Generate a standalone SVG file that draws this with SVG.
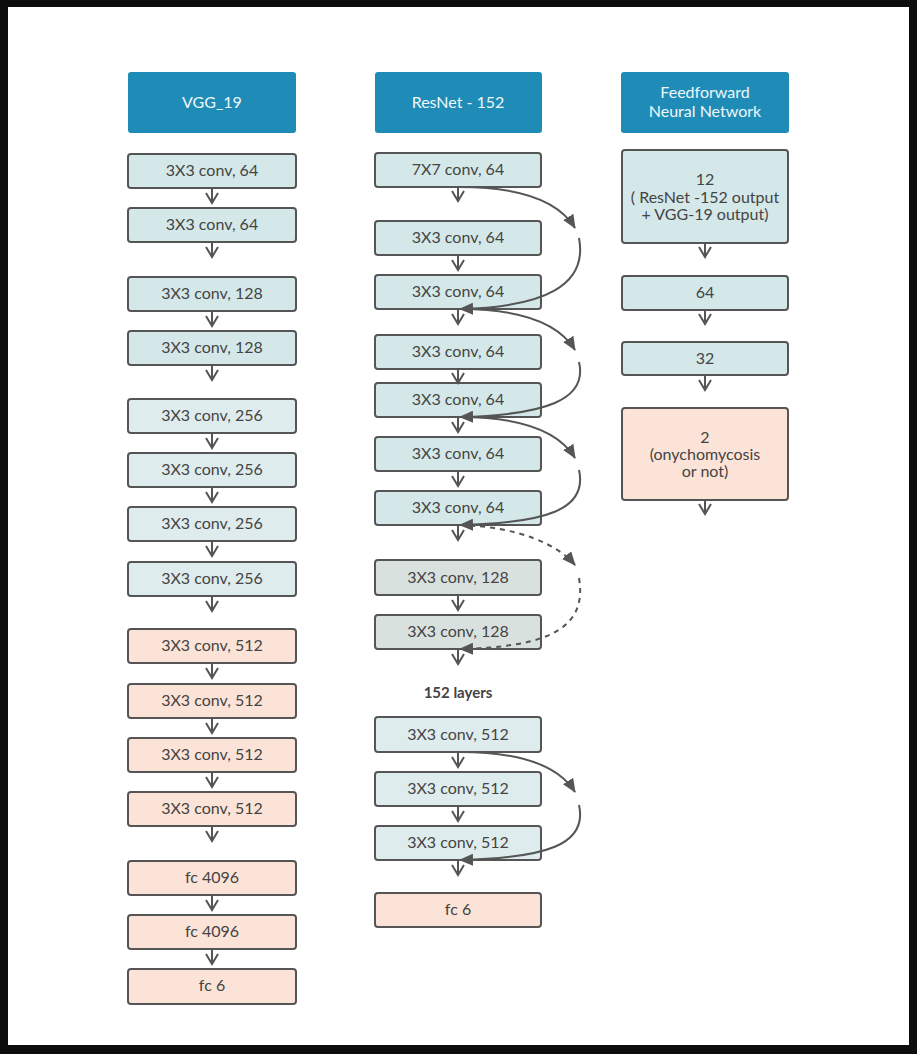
<svg xmlns="http://www.w3.org/2000/svg" width="917" height="1054" viewBox="0 0 917 1054">
<defs>
<marker id="chev" viewBox="0 0 14 14" refX="12" refY="7" markerWidth="14" markerHeight="14" markerUnits="userSpaceOnUse" orient="auto">
<path d="M2,1 L12,7 L2,13" fill="none" stroke="#555" stroke-width="2"/>
</marker>
<marker id="tri" viewBox="0 0 14 12" refX="13" refY="6" markerWidth="14" markerHeight="12" markerUnits="userSpaceOnUse" orient="auto">
<path d="M0,0 L14,6 L0,12 Z" fill="#555"/>
</marker>
<style>
.hdr{fill:#1f8cb7}
.ht{fill:#eef7fa;font-family:Lato,"Liberation Sans",sans-serif;font-size:16px;text-anchor:middle}
.b{stroke:#555;stroke-width:2}
.lb{fill:#d5e8e9}
.lb2{fill:#dfecee}
.gb{fill:#d9e1df}
.pk{fill:#fce3d7}
.t{fill:#444;font-family:Lato,"Liberation Sans",sans-serif;font-size:16px;text-anchor:middle}
.a{fill:none;stroke:#555;stroke-width:2;marker-end:url(#chev)}
.c{fill:none;stroke:#555;stroke-width:2;marker-end:url(#tri)}
.d{stroke-dasharray:5 5}
</style>
</defs>
<rect x="0" y="0" width="917" height="1054" fill="#0d0d0d"/>
<rect x="8" y="7" width="901" height="1038" fill="#ffffff"/>

<!-- VGG column -->
<g id="vgg-header"><rect class="hdr" x="128" y="72" width="168" height="61" rx="3"/><text class="ht" x="212" y="108">VGG_19</text></g>
<g id="vgg1"><rect class="b lb" x="128" y="154" width="168" height="34" rx="3"/><text class="t" x="212" y="176">3X3 conv, 64</text></g>
<g id="vgg2"><rect class="b lb" x="128" y="208" width="168" height="34" rx="3"/><text class="t" x="212" y="230">3X3 conv, 64</text></g>
<g id="vgg3"><rect class="b lb" x="128" y="277" width="168" height="34" rx="3"/><text class="t" x="212" y="299">3X3 conv, 128</text></g>
<g id="vgg4"><rect class="b lb" x="128" y="331" width="168" height="34" rx="3"/><text class="t" x="212" y="353">3X3 conv, 128</text></g>
<g id="vgg5"><rect class="b lb2" x="128" y="399" width="168" height="34" rx="3"/><text class="t" x="212" y="421">3X3 conv, 256</text></g>
<g id="vgg6"><rect class="b lb2" x="128" y="453" width="168" height="34" rx="3"/><text class="t" x="212" y="475">3X3 conv, 256</text></g>
<g id="vgg7"><rect class="b lb2" x="128" y="507" width="168" height="34" rx="3"/><text class="t" x="212" y="529">3X3 conv, 256</text></g>
<g id="vgg8"><rect class="b lb2" x="128" y="562" width="168" height="34" rx="3"/><text class="t" x="212" y="584">3X3 conv, 256</text></g>
<g id="vgg9"><rect class="b pk" x="128" y="629" width="168" height="34" rx="3"/><text class="t" x="212" y="651">3X3 conv, 512</text></g>
<g id="vgg10"><rect class="b pk" x="128" y="684" width="168" height="34" rx="3"/><text class="t" x="212" y="706">3X3 conv, 512</text></g>
<g id="vgg11"><rect class="b pk" x="128" y="738" width="168" height="34" rx="3"/><text class="t" x="212" y="760">3X3 conv, 512</text></g>
<g id="vgg12"><rect class="b pk" x="128" y="792" width="168" height="34" rx="3"/><text class="t" x="212" y="814">3X3 conv, 512</text></g>
<g id="vgg13"><rect class="b pk" x="128" y="861" width="168" height="34" rx="3"/><text class="t" x="212" y="883">fc 4096</text></g>
<g id="vgg14"><rect class="b pk" x="128" y="915" width="168" height="34" rx="3"/><text class="t" x="212" y="937">fc 4096</text></g>
<g id="vgg15"><rect class="b pk" x="128" y="969" width="168" height="35" rx="3"/><text class="t" x="212" y="991">fc 6</text></g>

<!-- ResNet column -->
<g id="res-header"><rect class="hdr" x="375" y="72" width="167" height="61" rx="3"/><text class="ht" x="458" y="108">ResNet - 152</text></g>
<g id="res1"><rect class="b lb" x="375" y="153" width="166" height="34" rx="3"/><text class="t" x="458" y="175">7X7 conv, 64</text></g>
<g id="res2"><rect class="b lb" x="375" y="221" width="166" height="34" rx="3"/><text class="t" x="458" y="243">3X3 conv, 64</text></g>
<g id="res3"><rect class="b lb" x="375" y="275" width="166" height="34" rx="3"/><text class="t" x="458" y="297">3X3 conv, 64</text></g>
<g id="res4"><rect class="b lb" x="375" y="335" width="166" height="34" rx="3"/><text class="t" x="458" y="357">3X3 conv, 64</text></g>
<g id="res5"><rect class="b lb" x="375" y="383" width="166" height="34" rx="3"/><text class="t" x="458" y="405">3X3 conv, 64</text></g>
<g id="res6"><rect class="b lb" x="375" y="437" width="166" height="34" rx="3"/><text class="t" x="458" y="459">3X3 conv, 64</text></g>
<g id="res7"><rect class="b lb" x="375" y="491" width="166" height="34" rx="3"/><text class="t" x="458" y="513">3X3 conv, 64</text></g>
<g id="res8"><rect class="b gb" x="375" y="560" width="166" height="35" rx="3"/><text class="t" x="458" y="583">3X3 conv, 128</text></g>
<g id="res9"><rect class="b gb" x="375" y="615" width="166" height="34" rx="3"/><text class="t" x="458" y="637">3X3 conv, 128</text></g>
<g id="layers-label"><text x="458" y="698" fill="#444" font-family="Lato,'Liberation Sans',sans-serif" font-size="15" font-weight="bold" text-anchor="middle">152 layers</text></g>
<g id="res10"><rect class="b lb2" x="375" y="717" width="166" height="35" rx="3"/><text class="t" x="458" y="740">3X3 conv, 512</text></g>
<g id="res11"><rect class="b lb2" x="375" y="772" width="166" height="34" rx="3"/><text class="t" x="458" y="794">3X3 conv, 512</text></g>
<g id="res12"><rect class="b lb2" x="375" y="826" width="166" height="34" rx="3"/><text class="t" x="458" y="848">3X3 conv, 512</text></g>
<g id="res13"><rect class="b pk" x="375" y="893" width="166" height="34" rx="3"/><text class="t" x="458" y="915">fc 6</text></g>

<!-- Feedforward column -->
<g id="ff-header"><rect class="hdr" x="621" y="72" width="168" height="61" rx="3"/><text class="ht" x="705" y="98">Feedforward</text><text class="ht" x="705" y="117">Neural Network</text></g>
<g id="ff1"><rect class="b lb" x="622" y="150" width="166" height="93" rx="3"/><text class="t" x="705" y="185">12</text><text class="t" x="705" y="203">( ResNet -152 output</text><text class="t" x="705" y="220">+ VGG-19 output)</text></g>
<g id="ff2"><rect class="b lb" x="622" y="276" width="166" height="34" rx="3"/><text class="t" x="705" y="298">64</text></g>
<g id="ff3"><rect class="b lb" x="622" y="342" width="166" height="33" rx="3"/><text class="t" x="705" y="364">32</text></g>
<g id="ff4"><rect class="b pk" x="622" y="408" width="166" height="92" rx="3"/><text class="t" x="705" y="443">2</text><text class="t" x="705" y="460">(onychomycosis</text><text class="t" x="705" y="477">or not)</text></g>

<!-- connectors -->
<g id="connectors">
<path class="a" d="M212 188 V203"/>
<path class="a" d="M212 242 V257"/>
<path class="a" d="M212 311 V326"/>
<path class="a" d="M212 365 V380"/>
<path class="a" d="M212 433 V448"/>
<path class="a" d="M212 487 V502"/>
<path class="a" d="M212 541 V556"/>
<path class="a" d="M212 596 V611"/>
<path class="a" d="M212 663 V678"/>
<path class="a" d="M212 718 V733"/>
<path class="a" d="M212 772 V787"/>
<path class="a" d="M212 826 V841"/>
<path class="a" d="M212 895 V910"/>
<path class="a" d="M212 949 V964"/>

<path class="a" d="M458 187 V201"/>
<path class="a" d="M458 255 V270"/>
<path class="a" d="M458 309 V324"/>
<path class="a" d="M458 369 V383"/>
<path class="a" d="M458 417 V432"/>
<path class="a" d="M458 471 V486"/>
<path class="a" d="M458 525 V540"/>
<path class="a" d="M458 595 V610"/>
<path class="a" d="M458 649 V664"/>
<path class="a" d="M458 752 V767"/>
<path class="a" d="M458 806 V821"/>
<path class="a" d="M458 860 V875"/>

<path class="a" d="M705 243 V257"/>
<path class="a" d="M705 310 V324"/>
<path class="a" d="M705 375 V390"/>
<path class="a" d="M705 500 V514"/>

<!-- skip connections -->
<path class="c" d="M460 187 C520 187 558 200 575 228"/>
<path class="c" d="M579 238 C588 285 545 307 460 309"/>
<path class="c" d="M460 309 C520 309 558 322 575 350"/>
<path class="c" d="M579 362 C588 400 545 415 460 417"/>
<path class="c" d="M460 417 C520 417 558 430 575 458"/>
<path class="c" d="M579 470 C588 510 545 523 460 525"/>
<path class="c d" d="M460 525 C520 527 558 545 575 565"/>
<path class="c d" d="M579 578 C588 630 545 647 460 649"/>
<path class="c" d="M460 752 C520 752 558 765 575 792"/>
<path class="c" d="M579 805 C588 845 545 858 460 860"/>
</g>
</svg>
